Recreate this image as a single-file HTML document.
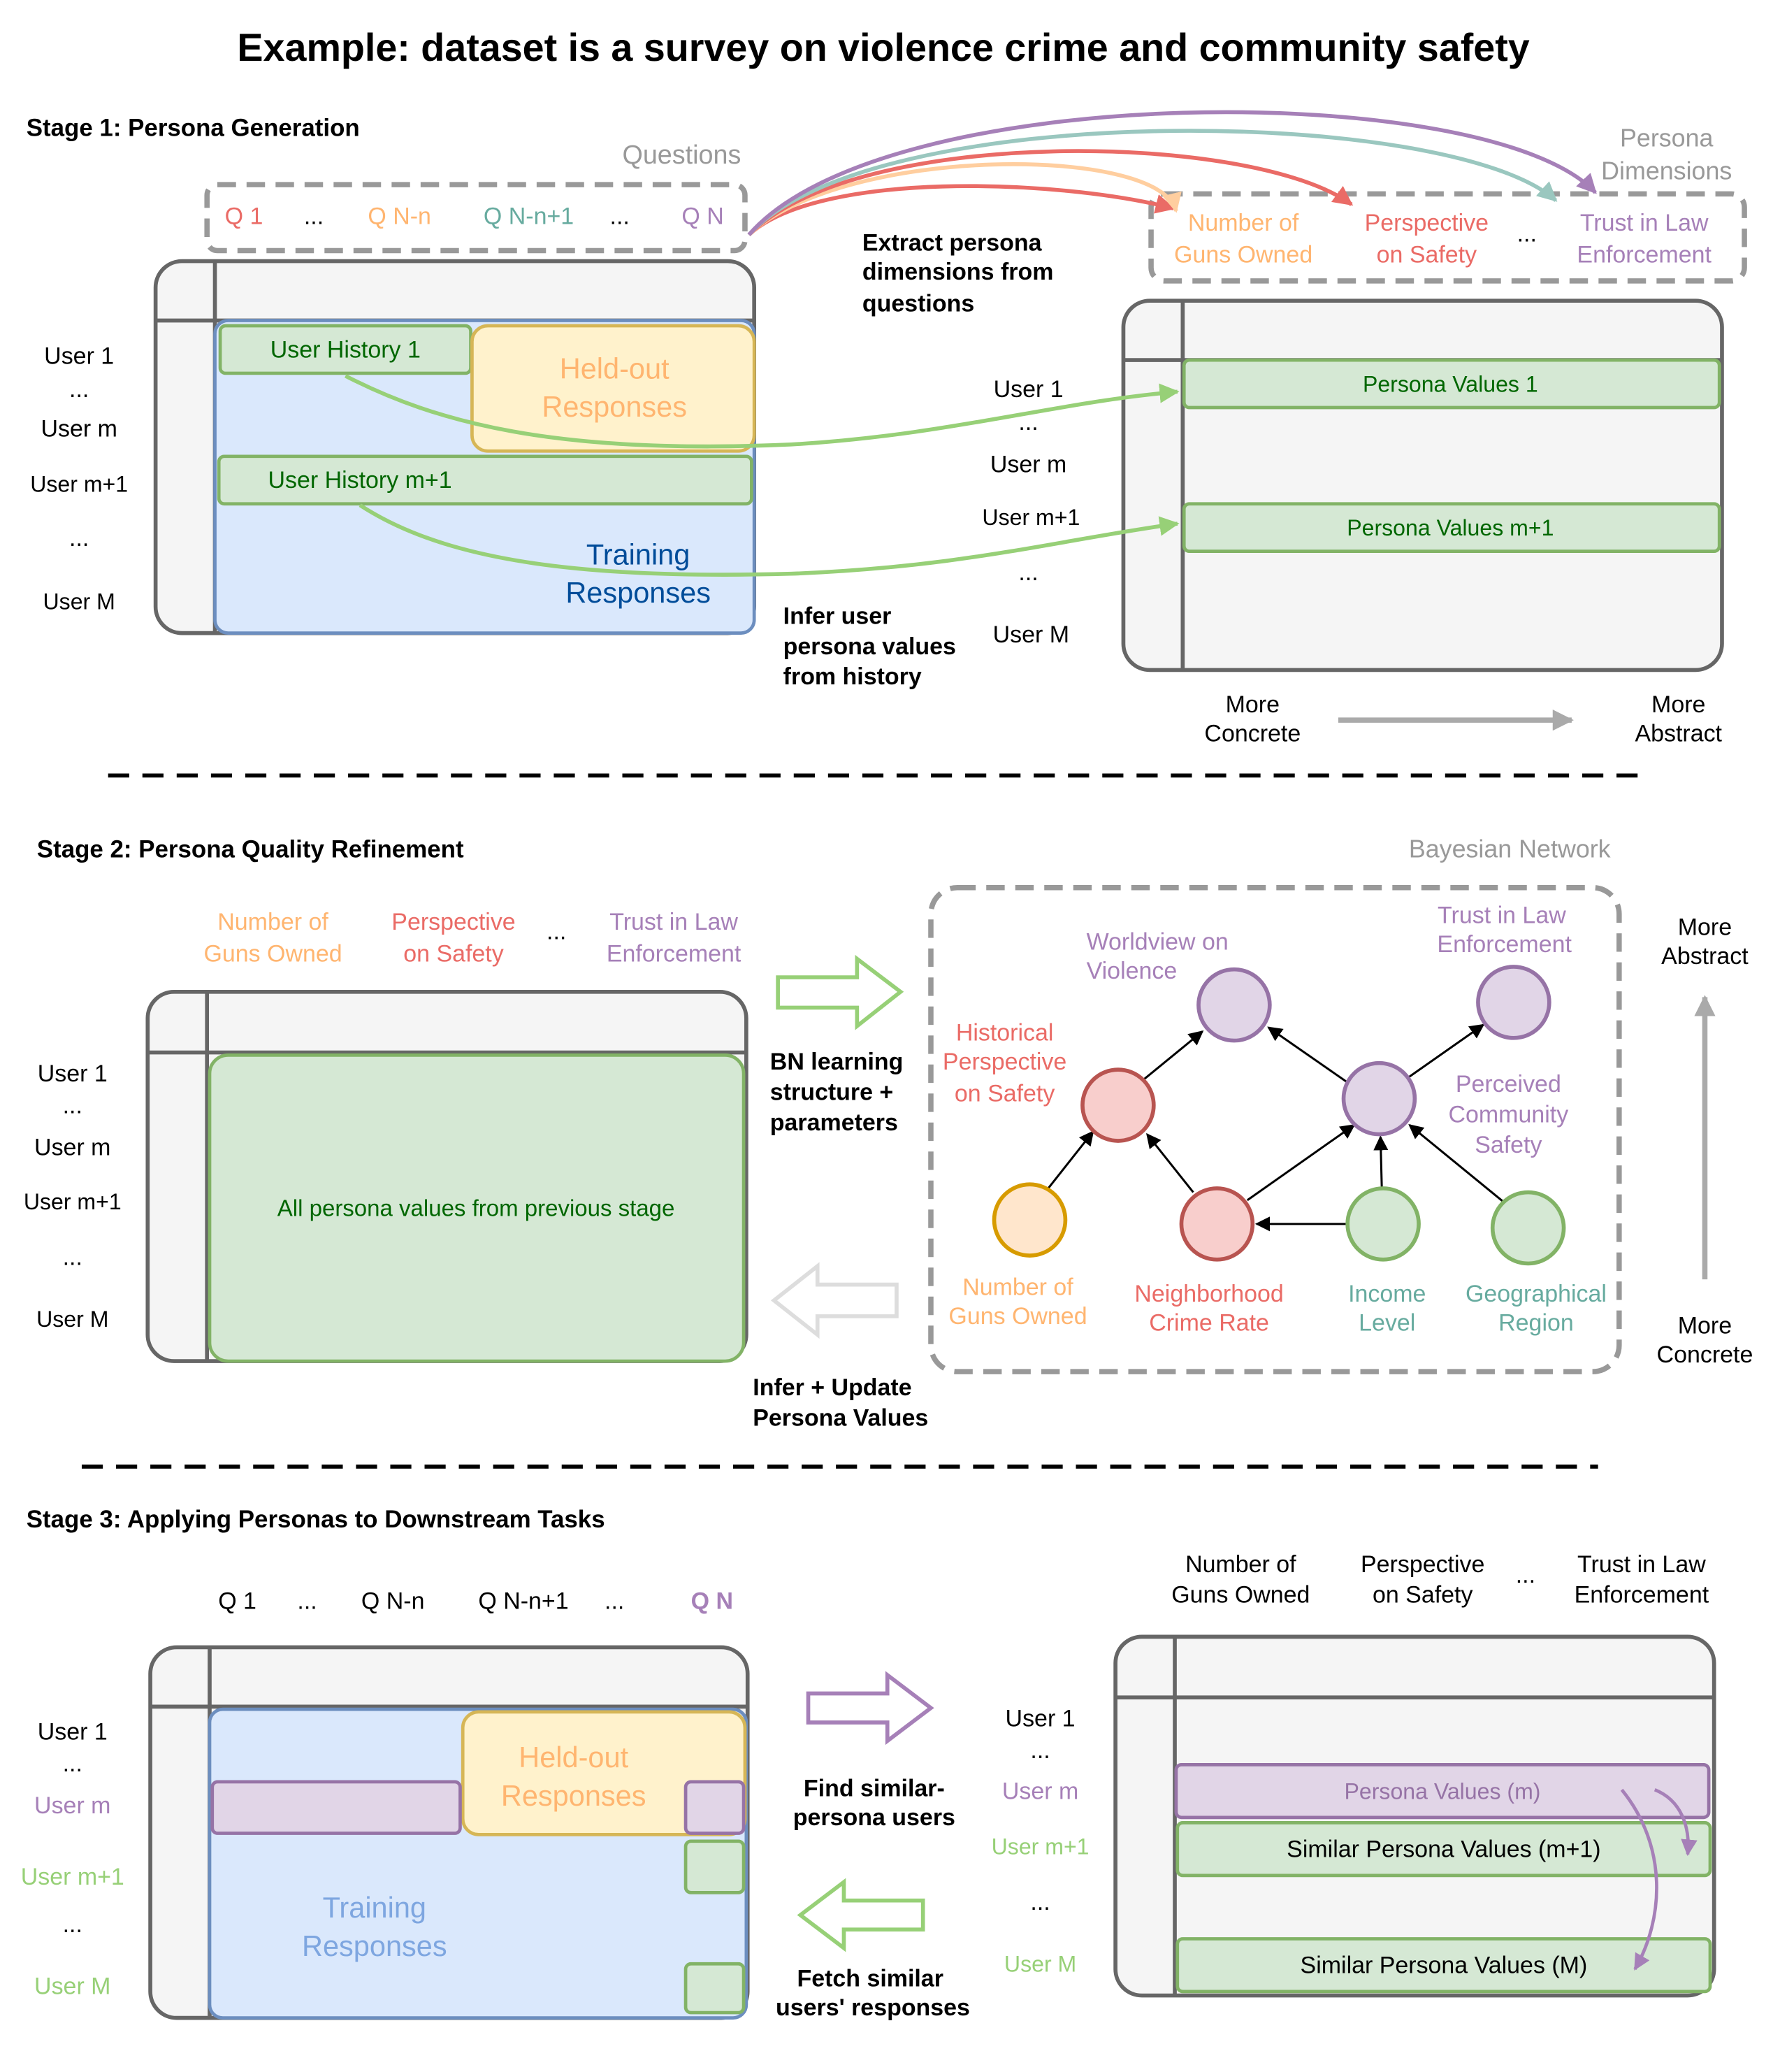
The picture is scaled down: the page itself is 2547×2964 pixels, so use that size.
<!DOCTYPE html>
<html><head><meta charset="utf-8"><style>html,body{margin:0;padding:0;background:#fff}svg{display:block}text{font-family:"Liberation Sans",Arial,sans-serif}</style></head>
<body>
<svg width="2547" height="2964" viewBox="0 0 1350 1571" xmlns="http://www.w3.org/2000/svg">
<defs>
<marker id="ak" viewBox="0 0 10 10" refX="9" refY="5" markerWidth="7" markerHeight="7" orient="auto"><path d="M0,0L10,5L0,10z" fill="#000"/></marker>
<marker id="ag" viewBox="0 0 10 10" refX="9" refY="5" markerWidth="5" markerHeight="5" orient="auto"><path d="M0,0L10,5L0,10z" fill="#97D077"/></marker>
<marker id="ar" viewBox="0 0 10 10" refX="9" refY="5" markerWidth="5" markerHeight="5" orient="auto"><path d="M0,0L10,5L0,10z" fill="#EA6B66"/></marker>
<marker id="ao" viewBox="0 0 10 10" refX="9" refY="5" markerWidth="5" markerHeight="5" orient="auto"><path d="M0,0L10,5L0,10z" fill="#FFCE9F"/></marker>
<marker id="at" viewBox="0 0 10 10" refX="9" refY="5" markerWidth="5" markerHeight="5" orient="auto"><path d="M0,0L10,5L0,10z" fill="#9AC7BF"/></marker>
<marker id="ap" viewBox="0 0 10 10" refX="9" refY="5" markerWidth="5" markerHeight="5" orient="auto"><path d="M0,0L10,5L0,10z" fill="#A680B8"/></marker>
<marker id="agr" viewBox="0 0 10 10" refX="9" refY="5" markerWidth="4" markerHeight="4" orient="auto"><path d="M0,0L10,5L0,10z" fill="#aaa"/></marker>
</defs>
<g font-size="18" text-anchor="middle">
<text x="670" y="46" font-size="29.5" font-weight="bold">Example: dataset is a survey on violence crime and community safety</text>

<!-- Stage 1 -->
<text x="20" y="103" font-weight="bold" text-anchor="start" font-size="18.5">Stage 1: Persona Generation</text>
<text x="517" y="124" font-size="20" fill="#999">Questions</text>
<rect x="157" y="140" width="408" height="50" rx="8" fill="none" stroke="#999" stroke-width="4" stroke-dasharray="14 8"/>
<text x="185" y="170" fill="#EA6B66">Q 1</text><text x="238" y="170">...</text>
<text x="303" y="170" fill="#FFB570">Q N-n</text><text x="401" y="170" fill="#67AB9F">Q N-n+1</text>
<text x="470" y="170">...</text><text x="533" y="170" fill="#A680B8">Q N</text>

<rect x="118" y="198" width="454" height="282" rx="20" fill="#f5f5f5" stroke="#666" stroke-width="3"/>
<line x1="118" y1="243" x2="572" y2="243" stroke="#666" stroke-width="3"/><line x1="163" y1="198" x2="163" y2="480" stroke="#666" stroke-width="3"/>
<rect x="163" y="243" width="409" height="237" rx="10" fill="#dae8fc" stroke="#6c8ebf" stroke-width="2.5"/>
<rect x="167" y="247" width="190" height="36" rx="4" fill="#d5e8d4" stroke="#82b366" stroke-width="2.5"/>
<text x="262" y="271" fill="#006600">User History 1</text>
<rect x="358" y="247" width="214" height="95" rx="12" fill="#fff2cc" stroke="#d6b656" stroke-width="2.5"/>
<text x="466" y="287" font-size="22" fill="#FFB570">Held-out</text><text x="466" y="316" font-size="22" fill="#FFB570">Responses</text>
<rect x="166" y="346" width="404" height="36" rx="4" fill="#d5e8d4" stroke="#82b366" stroke-width="2.5"/>
<text x="273" y="370" fill="#006600">User History m+1</text>
<text x="484" y="428" font-size="22" fill="#004C99">Training</text><text x="484" y="457" font-size="22" fill="#004C99">Responses</text>
<text x="60" y="276">User 1</text><text x="60" y="301">...</text><text x="60" y="331">User m</text>
<text x="60" y="373" font-size="17">User m+1</text><text x="60" y="414">...</text><text x="60" y="462" font-size="17">User M</text>

<text x="1264" y="111" font-size="19" fill="#999">Persona</text><text x="1264" y="136" font-size="19" fill="#999">Dimensions</text>
<rect x="873" y="147" width="450" height="66" rx="10" fill="none" stroke="#999" stroke-width="4" stroke-dasharray="14 8"/>
<text x="943" y="175" fill="#FFB570">Number of</text><text x="943" y="199" fill="#FFB570">Guns Owned</text>
<text x="1082" y="175" fill="#EA6B66">Perspective</text><text x="1082" y="199" fill="#EA6B66">on Safety</text>
<text x="1158" y="183">...</text>
<text x="1247" y="175" fill="#A680B8">Trust in Law</text><text x="1247" y="199" fill="#A680B8">Enforcement</text>

<g fill="none" stroke-width="3">
<path d="M568,178 C620,130 800,135 890,158" stroke="#EA6B66" marker-end="url(#ar)"/>
<path d="M568,178 C640,110 880,110 892,160" stroke="#FFCE9F" marker-end="url(#ao)"/>
<path d="M568,178 C650,95 950,100 1025,155" stroke="#EA6B66" marker-end="url(#ar)"/>
<path d="M568,178 C660,75 1100,80 1180,152" stroke="#9AC7BF" marker-end="url(#at)"/>
<path d="M568,178 C670,60 1130,60 1210,146" stroke="#A680B8" marker-end="url(#ap)"/>
</g>
<g font-weight="bold" text-anchor="start" font-size="18">
<text x="654" y="190">Extract persona</text><text x="654" y="212">dimensions from</text><text x="654" y="236">questions</text>
<text x="594" y="473">Infer user</text><text x="594" y="496">persona values</text><text x="594" y="519">from history</text>
</g>

<rect x="852" y="228" width="454" height="280" rx="20" fill="#f5f5f5" stroke="#666" stroke-width="3"/>
<line x1="852" y1="273" x2="1306" y2="273" stroke="#666" stroke-width="3"/><line x1="897" y1="228" x2="897" y2="508" stroke="#666" stroke-width="3"/>
<rect x="898" y="273" width="406" height="36" rx="4" fill="#d5e8d4" stroke="#82b366" stroke-width="2.5"/>
<text x="1100" y="297" fill="#006600" font-size="17">Persona Values 1</text>
<rect x="898" y="382" width="406" height="36" rx="4" fill="#d5e8d4" stroke="#82b366" stroke-width="2.5"/>
<text x="1100" y="406" fill="#006600" font-size="17">Persona Values m+1</text>
<text x="780" y="301">User 1</text><text x="780" y="326">...</text><text x="780" y="358">User m</text>
<text x="782" y="398" font-size="17">User m+1</text><text x="780" y="440">...</text><text x="782" y="487">User M</text>
<g fill="none" stroke="#97D077" stroke-width="3">
<path d="M262,285 C330,320 420,345 600,337 C720,330 800,305 893,297" marker-end="url(#ag)"/>
<path d="M273,383 C330,420 420,440 600,435 C730,430 800,410 893,397" marker-end="url(#ag)"/>
</g>
<text x="950" y="540">More</text><text x="950" y="562">Concrete</text>
<text x="1273" y="540">More</text><text x="1273" y="562">Abstract</text>
<line x1="1015" y1="546" x2="1192" y2="546" stroke="#aaa" stroke-width="4" marker-end="url(#agr)"/>
<line x1="82" y1="588" x2="1252" y2="588" stroke="#000" stroke-width="3" stroke-dasharray="16 10"/>

<!-- Stage 2 -->
<text x="28" y="650" font-weight="bold" text-anchor="start" font-size="18.5">Stage 2: Persona Quality Refinement</text>
<text x="207" y="705" fill="#FFB570">Number of</text><text x="207" y="729" fill="#FFB570">Guns Owned</text>
<text x="344" y="705" fill="#EA6B66">Perspective</text><text x="344" y="729" fill="#EA6B66">on Safety</text>
<text x="422" y="712">...</text>
<text x="511" y="705" fill="#A680B8">Trust in Law</text><text x="511" y="729" fill="#A680B8">Enforcement</text>
<rect x="112" y="752" width="454" height="280" rx="20" fill="#f5f5f5" stroke="#666" stroke-width="3"/>
<line x1="112" y1="798" x2="566" y2="798" stroke="#666" stroke-width="3"/><line x1="157" y1="752" x2="157" y2="1032" stroke="#666" stroke-width="3"/>
<rect x="159" y="800" width="405" height="232" rx="14" fill="#d5e8d4" stroke="#82b366" stroke-width="2.5"/>
<text x="361" y="922" fill="#006600" font-size="17.5">All persona values from previous stage</text>
<text x="55" y="820">User 1</text><text x="55" y="844">...</text><text x="55" y="876">User m</text>
<text x="55" y="917" font-size="17">User m+1</text><text x="55" y="959">...</text><text x="55" y="1006" font-size="17">User M</text>
<path d="M590,741 H650 V727 L683,752 L650,778 V764 H590 Z" fill="#fff" stroke="#97D077" stroke-width="3"/>
<path d="M680,974 H620 V960 L587,986 L620,1012 V998 H680 Z" fill="#fff" stroke="#ddd" stroke-width="3"/>
<g font-weight="bold" text-anchor="start" font-size="18">
<text x="584" y="811">BN learning</text><text x="584" y="834">structure +</text><text x="584" y="857">parameters</text>
<text x="571" y="1058">Infer + Update</text><text x="571" y="1081">Persona Values</text>
</g>
<text x="1145" y="650" fill="#999" font-size="19">Bayesian Network</text>
<rect x="706" y="673" width="522" height="367" rx="20" fill="none" stroke="#999" stroke-width="4" stroke-dasharray="14 8"/>
<g stroke="#000" stroke-width="1.6" marker-end="url(#ak)">
<line x1="795" y1="901" x2="829" y2="858"/>
<line x1="905" y1="904" x2="870" y2="860"/>
<line x1="868" y1="818" x2="912" y2="782"/>
<line x1="1021" y1="820" x2="962" y2="779"/>
<line x1="946" y1="910" x2="1027" y2="853"/>
<line x1="1022" y1="928" x2="953" y2="928"/>
<line x1="1048" y1="901" x2="1047" y2="862"/>
<line x1="1140" y1="911" x2="1069" y2="853"/>
<line x1="1068" y1="817" x2="1125" y2="777"/>
</g>
<g stroke-width="3">
<circle cx="936" cy="762" r="27" fill="#e1d5e7" stroke="#9673a6"/>
<circle cx="1148" cy="760" r="27" fill="#e1d5e7" stroke="#9673a6"/>
<circle cx="848" cy="838" r="27" fill="#f8cecc" stroke="#b85450"/>
<circle cx="1046" cy="833" r="27" fill="#e1d5e7" stroke="#9673a6"/>
<circle cx="781" cy="925" r="27" fill="#ffe6cc" stroke="#d79b00"/>
<circle cx="923" cy="928" r="27" fill="#f8cecc" stroke="#b85450"/>
<circle cx="1049" cy="928" r="27" fill="#d5e8d4" stroke="#82b366"/>
<circle cx="1159" cy="931" r="27" fill="#d5e8d4" stroke="#82b366"/>
</g>
<text x="824" y="720" fill="#A680B8" text-anchor="start">Worldview on</text><text x="824" y="742" fill="#A680B8" text-anchor="start">Violence</text>
<text x="1139" y="700" fill="#A680B8">Trust in Law</text><text x="1141" y="722" fill="#A680B8">Enforcement</text>
<text x="762" y="789" fill="#EA6B66">Historical</text><text x="762" y="811" fill="#EA6B66">Perspective</text><text x="762" y="835" fill="#EA6B66">on Safety</text>
<text x="1144" y="828" fill="#A680B8">Perceived</text><text x="1144" y="851" fill="#A680B8">Community</text><text x="1144" y="874" fill="#A680B8">Safety</text>
<text x="772" y="982" fill="#FFB570">Number of</text><text x="772" y="1004" fill="#FFB570">Guns Owned</text>
<text x="917" y="987" fill="#EA6B66">Neighborhood</text><text x="917" y="1009" fill="#EA6B66">Crime Rate</text>
<text x="1052" y="987" fill="#67AB9F">Income</text><text x="1052" y="1009" fill="#67AB9F">Level</text>
<text x="1165" y="987" fill="#67AB9F">Geographical</text><text x="1165" y="1009" fill="#67AB9F">Region</text>
<text x="1293" y="709">More</text><text x="1293" y="731">Abstract</text>
<line x1="1293" y1="970" x2="1293" y2="756" stroke="#aaa" stroke-width="4" marker-end="url(#agr)"/>
<text x="1293" y="1011">More</text><text x="1293" y="1033">Concrete</text>
<line x1="62" y1="1112" x2="1212" y2="1112" stroke="#000" stroke-width="3" stroke-dasharray="16 10"/>

<!-- Stage 3 -->
<text x="20" y="1158" font-weight="bold" text-anchor="start" font-size="18.5">Stage 3: Applying Personas to Downstream Tasks</text>
<text x="180" y="1220">Q 1</text><text x="233" y="1220">...</text><text x="298" y="1220">Q N-n</text>
<text x="397" y="1220">Q N-n+1</text><text x="466" y="1220">...</text><text x="540" y="1220" fill="#A680B8" font-weight="bold">Q N</text>
<rect x="114" y="1249" width="453" height="281" rx="20" fill="#f5f5f5" stroke="#666" stroke-width="3"/>
<line x1="114" y1="1294" x2="567" y2="1294" stroke="#666" stroke-width="3"/><line x1="159" y1="1249" x2="159" y2="1530" stroke="#666" stroke-width="3"/>
<rect x="159" y="1296" width="407" height="234" rx="10" fill="#dae8fc" stroke="#6c8ebf" stroke-width="2.5"/>
<rect x="351" y="1298" width="214" height="93" rx="12" fill="#fff2cc" stroke="#d6b656" stroke-width="2.5"/>
<text x="435" y="1340" font-size="22" fill="#FFB570">Held-out</text><text x="435" y="1369" font-size="22" fill="#FFB570">Responses</text>
<rect x="161" y="1351" width="188" height="39" rx="4" fill="#e1d5e7" stroke="#9673a6" stroke-width="2.5"/>
<rect x="520" y="1351" width="44" height="39" rx="4" fill="#e1d5e7" stroke="#9673a6" stroke-width="2.5"/>
<rect x="520" y="1396" width="44" height="39" rx="4" fill="#d5e8d4" stroke="#82b366" stroke-width="2.5"/>
<rect x="520" y="1489" width="44" height="37" rx="4" fill="#d5e8d4" stroke="#82b366" stroke-width="2.5"/>
<text x="284" y="1454" font-size="22" fill="#7EA6E0">Training</text><text x="284" y="1483" font-size="22" fill="#7EA6E0">Responses</text>
<text x="55" y="1319">User 1</text><text x="55" y="1343">...</text><text x="55" y="1375" fill="#A680B8">User m</text>
<text x="55" y="1429" fill="#97D077">User m+1</text><text x="55" y="1465">...</text><text x="55" y="1512" fill="#97D077">User M</text>
<path d="M613,1284 H673 V1270 L706,1295 L673,1320 V1306 H613 Z" fill="#fff" stroke="#A680B8" stroke-width="3"/>
<path d="M700,1441 H640 V1427 L607,1452 L640,1477 V1463 H700 Z" fill="#fff" stroke="#97D077" stroke-width="3"/>
<g font-weight="bold" font-size="18">
<text x="663" y="1362">Find similar-</text><text x="663" y="1384">persona users</text>
<text x="660" y="1506">Fetch similar</text><text x="662" y="1528">users' responses</text>
</g>
<text x="941" y="1192">Number of</text><text x="941" y="1215">Guns Owned</text>
<text x="1079" y="1192">Perspective</text><text x="1079" y="1215">on Safety</text>
<text x="1157" y="1200">...</text>
<text x="1245" y="1192">Trust in Law</text><text x="1245" y="1215">Enforcement</text>
<rect x="846" y="1241" width="454" height="272" rx="20" fill="#f5f5f5" stroke="#666" stroke-width="3"/>
<line x1="846" y1="1287" x2="1300" y2="1287" stroke="#666" stroke-width="3"/><line x1="891" y1="1241" x2="891" y2="1513" stroke="#666" stroke-width="3"/>
<rect x="892" y="1338" width="404" height="40" rx="4" fill="#e1d5e7" stroke="#9673a6" stroke-width="2.5"/>
<text x="1094" y="1364" fill="#9673A6" font-size="17">Persona Values (m)</text>
<rect x="893" y="1382" width="404" height="40" rx="4" fill="#d5e8d4" stroke="#82b366" stroke-width="2.5"/>
<text x="1095" y="1408" fill="#000" font-size="18">Similar Persona Values (m+1)</text>
<rect x="893" y="1470" width="404" height="40" rx="4" fill="#d5e8d4" stroke="#82b366" stroke-width="2.5"/>
<text x="1095" y="1496" fill="#000" font-size="18">Similar Persona Values (M)</text>
<text x="789" y="1309">User 1</text><text x="789" y="1333">...</text><text x="789" y="1364" fill="#A680B8">User m</text>
<text x="789" y="1406" fill="#97D077" font-size="17">User m+1</text><text x="789" y="1448">...</text><text x="789" y="1495" fill="#97D077" font-size="17">User M</text>
<g fill="none" stroke="#A680B8" stroke-width="2.5">
<path d="M1255,1357 C1275,1365 1282,1385 1280,1406" marker-end="url(#ap)"/>
<path d="M1230,1357 C1265,1400 1262,1455 1240,1493" marker-end="url(#ap)"/>
</g>
</g>
</svg>
</body></html>
